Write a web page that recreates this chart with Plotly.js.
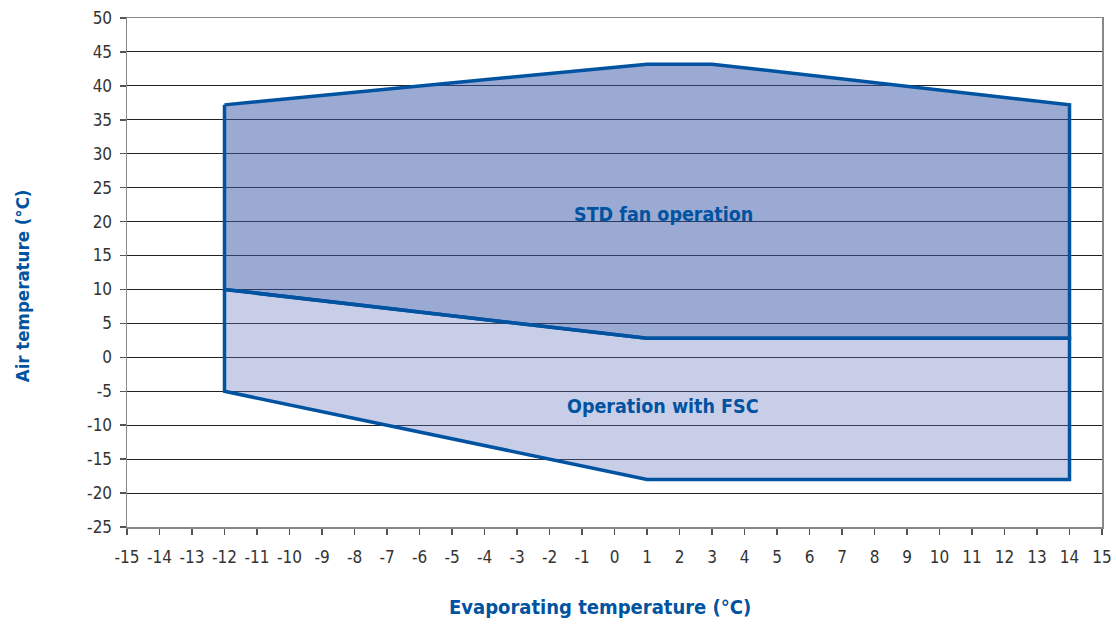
<!DOCTYPE html>
<html><head><meta charset="utf-8">
<script src="https://cdn.plot.ly/plotly-3.0.1.min.js"></script>
<style>body{margin:0;background:#fff}#c{width:1116px;height:625px}</style>
</head><body><div id="c"></div>
<script>
// STD fan operation envelope
const stdX = [-12, 1, 3, 14, 14, 1, -12, -12];
const stdY = [37.2, 43.2, 43.2, 37.2, 2.8, 2.8, 10, 37.2];
// Operation with FSC envelope
const fscX = [-12, 1, 14, 14, 1, -12, -12];
const fscY = [10, 2.8, 2.8, -18, -18, -5, 10];
const labels = ["STD fan operation", "Operation with FSC"];
const labelX = [1.5, 1.5];
const labelY = [21.1, -7.2];
const xTicks = [-15,-14,-13,-12,-11,-10,-9,-8,-7,-6,-5,-4,-3,-2,-1,0,1,2,3,4,5,6,7,8,9,10,11,12,13,14,15];
const yTicks = [-25,-20,-15,-10,-5,0,5,10,15,20,25,30,35,40,45,50];
const xTitle = 'Evaporating temperature (°C)';
const yTitle = 'Air temperature (°C)';

const lineCol = '#0053A0';
const font = '"DejaVu Sans Condensed","DejaVu Sans",sans-serif';

const traces = [
  {x: fscX, y: fscY, mode: 'lines', fill: 'toself', fillcolor: 'rgba(98,115,189,0.35)',
   line: {color: lineCol, width: 3.5}, hoverinfo: 'skip', showlegend: false},
  {x: stdX, y: stdY, mode: 'lines', fill: 'toself', fillcolor: 'rgba(53,85,165,0.5)',
   line: {color: lineCol, width: 3.5}, hoverinfo: 'skip', showlegend: false}
];

const titleFont = {family: font, size: 20, color: '#0053A0', weight: 'bold'};

const layout = {
  width: 1116, height: 625,
  margin: {l: 127, r: 14, t: 18, b: 98},
  paper_bgcolor: '#fff', plot_bgcolor: '#fff',
  font: {family: font, size: 16, color: '#333'},
  xaxis: {
    range: [-15, 15], tickvals: xTicks, ticktext: xTicks.map(String),
    showgrid: false, zeroline: false,
    showline: true, linecolor: '#888', linewidth: 1.5, mirror: true,
    ticks: 'outside', ticklen: 6, tickcolor: '#555', tickwidth: 1.5,
    ticklabelstandoff: 8,
    tickfont: {family: font, size: 17, color: '#333'}
  },
  yaxis: {
    range: [-25, 50], tickvals: yTicks, ticktext: yTicks.map(String),
    showgrid: true, gridcolor: '#222', gridwidth: 1, zeroline: false,
    showline: true, linecolor: '#888', linewidth: 1.5, mirror: true,
    ticks: 'outside', ticklen: 6, tickcolor: '#555', tickwidth: 1.5,
    ticklabelstandoff: 4,
    tickfont: {family: font, size: 17, color: '#333'}
  },
  annotations: labels.map((t, i) => ({
    x: labelX[i], y: labelY[i], xref: 'x', yref: 'y', text: t, showarrow: false,
    font: {family: font, size: 19.5, color: '#0053A0', weight: 'bold'}
  })).concat([
    {xref: 'paper', yref: 'paper', x: 0.485, y: -0.157, text: xTitle, showarrow: false,
     xanchor: 'center', yanchor: 'middle', font: titleFont},
    {xref: 'paper', yref: 'paper', x: -0.1077, y: 0.475, text: yTitle, showarrow: false,
     textangle: -90, xanchor: 'center', yanchor: 'middle',
     font: Object.assign({}, titleFont, {size: 18.5})}
  ])
};

Plotly.newPlot('c', traces, layout, {displayModeBar: false, staticPlot: true});
</script></body></html>
